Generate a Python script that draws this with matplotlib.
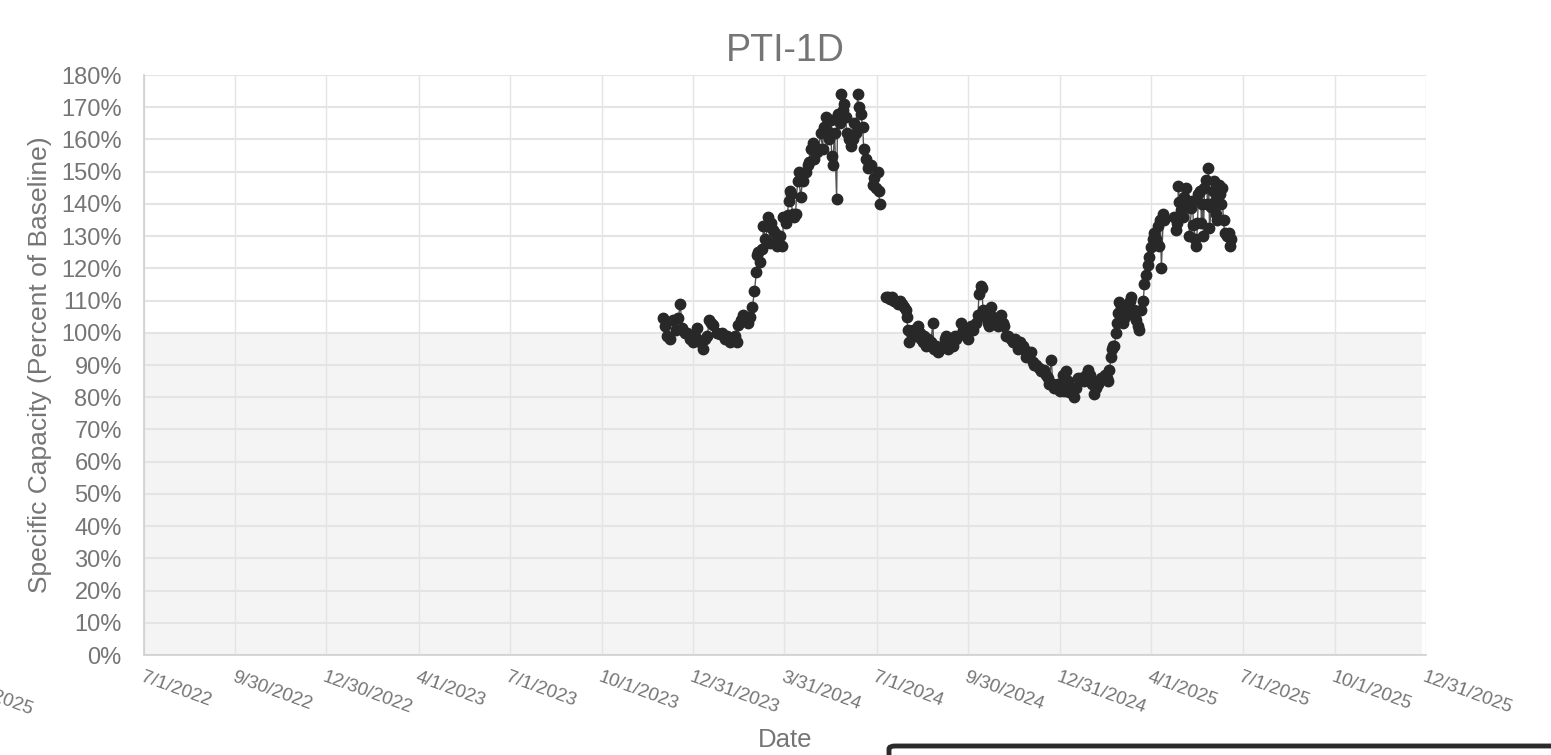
#importing necessary libraries
import numpy as np
import pandas as pd
import matplotlib
matplotlib.use('Agg')
import matplotlib.pyplot as plt
import matplotlib.dates as mdates
from matplotlib.patches import FancyBboxPatch

plt.rcParams['font.family'] = ['Liberation Sans', 'DejaVu Sans']

title = 'PTI-1D'
x_title = 'Date'
y_title = 'Specific Capacity (Percent of Baseline)'

# record is kept as days after series_start
series_start = pd.Timestamp('2023-11-01')
day_offset = [
    30, 32, 34, 37, 40, 43, 45, 47, 49, 52, 54, 57, 59, 60, 62, 64, 67, 70, 72, 74,
    76, 78, 80, 84, 87, 89, 92, 94, 97, 100, 102, 104, 105, 108, 110, 113, 115, 117, 119, 121,
    123, 124, 125, 127, 129, 130, 132, 134, 135, 137, 138, 140, 142, 144, 145, 147, 149, 150, 152, 154,
    155, 156, 157, 159, 160, 162, 164, 165, 167, 169, 172, 174, 175, 177, 179, 180, 183, 185, 187, 189,
    190, 192, 193, 195, 197, 198, 199, 201, 203, 204, 206, 207, 209, 210, 212, 213, 215, 217, 219, 220,
    222, 224, 225, 227, 229, 230, 232, 234, 235, 237, 239, 240, 242, 244, 245, 246,
    252, 254, 256, 258, 260, 262, 264, 266, 268, 270, 272, 273, 274, 275, 277, 279, 281, 284, 286, 287,
    289, 290, 292, 294, 297, 299, 300, 302, 304, 306, 309, 311, 312, 314, 315, 317, 319, 321, 322, 324,
    327, 329, 331, 334, 336, 337, 339, 342, 344, 345, 347, 348, 349, 351, 352, 354, 355, 357, 359, 360,
    362, 364, 365, 367, 369, 370, 372, 374, 377, 379, 381, 382, 384, 386, 387, 389, 390, 392, 394, 397,
    399, 400, 402, 405, 407, 410, 412, 414, 415, 417, 419, 420, 422, 424, 426, 427, 429, 430, 432, 434,
    435, 437, 440, 442, 444, 447, 450, 452, 454, 456, 458, 460, 462, 464, 465, 467, 469, 471, 473, 474,
    475, 477, 478, 479, 480, 482, 483, 484, 485, 487, 489, 491, 493, 494, 496, 497, 499, 500, 502, 504,
    505, 507, 509, 510, 512, 514, 515, 517, 519, 520, 522, 524, 525, 526, 527, 529, 530,
    540, 542, 543, 544, 545, 547, 549, 550, 552, 553, 554, 555, 557, 558, 559, 561, 562, 563, 564, 566,
    567, 568, 569, 570, 572, 573, 574, 575, 577, 578, 579, 580, 581, 582, 584, 585, 586, 587, 589, 590,
    592, 594, 595, 596,
]
capacity = [
    104.5, 102, 99, 98, 104, 101, 104.5, 109, 101.5, 100, 100, 98, 99, 97, 99, 101.5, 97, 95, 98, 99,
    104, 103, 102.5, 100, 99.5, 100, 98, 99, 97, 98, 99, 97, 102.5, 104, 105.5, 104, 103, 105, 108, 113,
    119, 124, 125, 122, 126, 133, 129, 133, 136, 128, 134, 132, 131, 127, 130, 130, 127, 136, 134, 136.5,
    141, 144, 143, 137, 136, 137, 147, 150, 142, 147, 150, 152, 153, 157, 159, 154, 156, 157, 162, 157,
    164, 167, 163, 160, 166, 155, 152, 162, 141.5, 168, 165, 174, 169, 171, 167, 162, 160, 158, 160, 165,
    162, 174, 170, 168, 164, 157, 154, 151, 152, 152, 146, 148, 145, 150, 144, 140,
    111, 111, 110.5, 111, 110, 110, 109, 110, 109, 108, 107, 105, 101, 97, 100, 101, 99, 102, 100, 98,
    97, 99, 96, 98, 97, 103, 95, 96, 94, 95, 96, 98, 99, 95, 96, 97, 96, 99, 98, 99,
    103, 101, 100, 98, 101, 102, 101, 103, 105.5, 112, 114.5, 114, 107, 105, 106, 103, 102, 108, 105, 104,
    103, 102, 103, 105.5, 103, 102, 99, 99, 98, 97, 98, 97, 95, 97, 96, 96, 95, 92.5, 94, 94,
    91, 90, 90, 89, 88, 88.5, 87, 86, 84, 91.5, 84, 83, 83, 84, 82, 83, 87, 82, 88, 85,
    81.6, 83, 80, 83, 86, 86, 85, 87, 88.5, 87, 84, 81, 83, 84, 85, 86, 86, 87, 86, 85,
    88.5, 92.5, 95, 96, 96, 100, 103, 106, 109.5, 108, 103, 105, 107, 108, 110, 111, 106, 107, 104, 102,
    101, 107, 110, 115, 118, 121, 123.5, 126.6, 129, 131, 129, 133, 127, 135, 120, 137, 135,
    136, 132, 134, 145.5, 140.6, 138, 136, 142, 145, 139, 141, 130, 138.7, 141, 133.5, 129, 127, 134, 143, 144,
    134, 140, 130, 145, 147.5, 140, 151, 132.5, 139, 144, 147, 141, 137, 135, 146, 143, 140, 145, 135, 131,
    130, 131, 127, 129,
]

tick_dates = ['2022-07-01', '2022-09-30', '2022-12-30', '2023-04-01', '2023-07-01',
              '2023-10-01', '2023-12-31', '2024-03-31', '2024-07-01', '2024-09-30',
              '2024-12-31', '2025-04-01', '2025-07-01', '2025-10-01', '2025-12-31']
tick_labels = ['7/1/2022', '9/30/2022', '12/30/2022', '4/1/2023', '7/1/2023',
               '10/1/2023', '12/31/2023', '3/31/2024', '7/1/2024', '9/30/2024',
               '12/31/2024', '4/1/2025', '7/1/2025', '10/1/2025', '12/31/2025']
y_ticks = list(range(0, 181, 10))

txt_col = '#757575'
grid_col = '#e4e4e4'

dates = series_start + pd.to_timedelta(day_offset, unit='D')
x = mdates.date2num(dates.to_pydatetime())
y = np.array(capacity, dtype=float)

# break the connecting line where the record has a gap
gaps = np.where(np.diff(day_offset) > 5)[0] + 1
x_line = np.insert(x, gaps, np.nan)
y_line = np.insert(y, gaps, np.nan)

fig = plt.figure(figsize=(15.51, 7.55), dpi=100)
ax = fig.add_axes([144 / 1551, 100 / 755, 1282 / 1551, 580 / 755])

ax.axhspan(0, 100, xmin=0, xmax=0.997, color='#f4f4f4', zorder=0, lw=0)
ax.plot(x_line, y_line, '-', color='#555555', lw=1.0, zorder=3)
ax.plot(x, y, 'o', color='#282828', ms=7.5, mec='#282828', zorder=4)

ax.set_xlim(mdates.date2num(pd.Timestamp(tick_dates[0])), mdates.date2num(pd.Timestamp(tick_dates[-1])))
ax.set_ylim(0, 180)
ax.set_yticks(y_ticks)
ax.set_yticklabels([f'{v}%' for v in y_ticks])
ax.set_xticks(mdates.date2num(pd.to_datetime(tick_dates).to_pydatetime()))
ax.set_xticklabels(tick_labels, rotation=-20, rotation_mode='anchor', ha='left', va='top')

ax.grid(axis='y', color=grid_col, lw=1.5, zorder=1)
ax.grid(axis='x', color=grid_col, lw=1.0, zorder=1)
ax.set_axisbelow(True)
ax.tick_params(axis='y', length=0, pad=16, labelsize=17, labelcolor=txt_col)
ax.tick_params(axis='x', length=0, pad=10, labelsize=13.5, labelcolor=txt_col)
for s in ['top', 'right']:
    ax.spines[s].set_visible(False)
for s in ['left', 'bottom']:
    ax.spines[s].set_color('#d0d0d0')
    ax.spines[s].set_linewidth(1.2)

ax.set_title(title, fontsize=27, color=txt_col, pad=10)
ax.set_xlabel(x_title, fontsize=18.5, color=txt_col)
ax.set_ylabel(y_title, fontsize=19, color=txt_col)
ax.xaxis.set_label_coords(0.5, -0.126)
ax.yaxis.set_label_coords(-0.072, 0.5)

# stray copy of the last date label, cut by the left edge
fig.text(-53 / 1551, 1 - 671 / 755, tick_labels[-1], rotation=-20, rotation_mode='anchor',
         ha='left', va='top', fontsize=13.5, color=txt_col)

# top of the legend box that hangs off the bottom right corner
box = FancyBboxPatch((889 / 1551, -0.05), 0.6, 0.05 + 9 / 755,
                     boxstyle='round,pad=0,rounding_size=0.004', transform=fig.transFigure,
                     fill=False, ec='#2b2b2b', lw=3.5, clip_on=False)
fig.add_artist(box)

fig.savefig('out.png', dpi=100)
